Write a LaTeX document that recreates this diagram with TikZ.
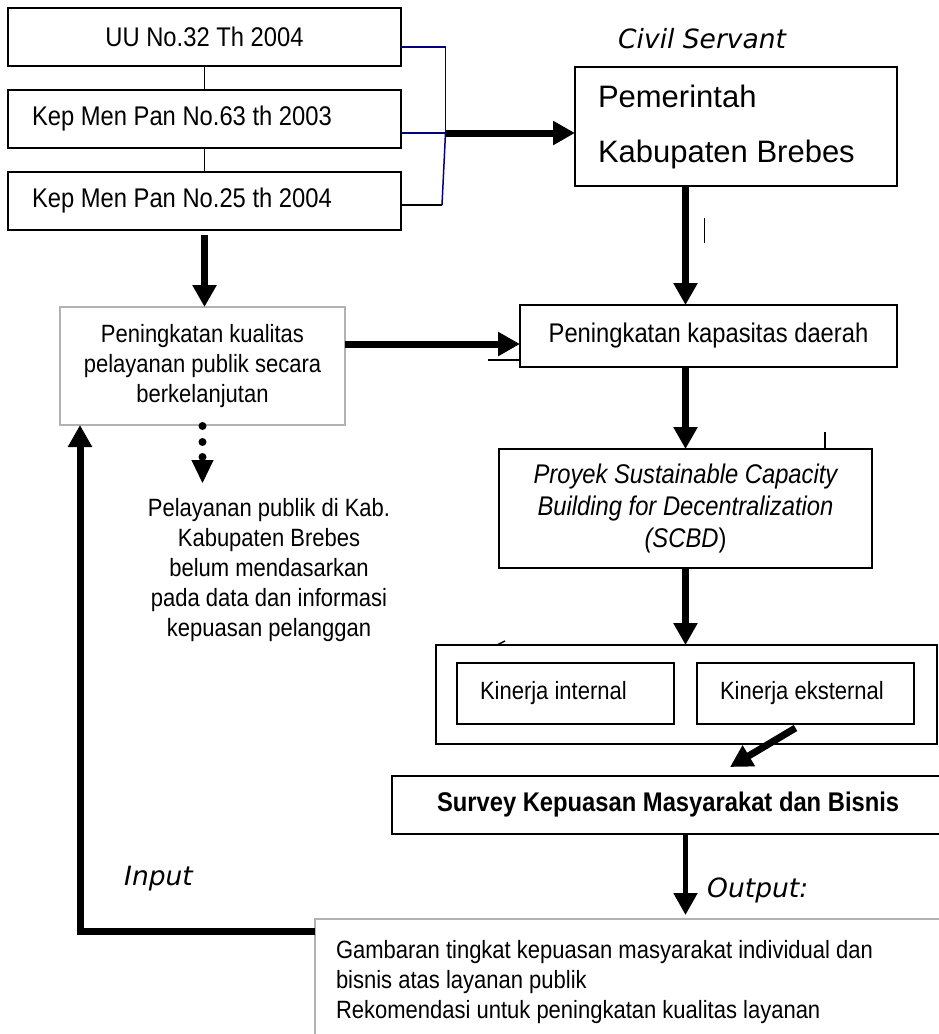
\documentclass[tikz,border=0pt]{standalone}
\usepackage{fontspec}
\setmainfont{Liberation Sans}
\newfontfamily\sempit[FakeStretch=0.88]{Liberation Sans}
\newfontfamily\verd{DejaVu Sans}
\usepackage{xcolor}
\usepackage{tikz}
\definecolor{birutua}{RGB}{0,0,128}
\newcommand{\besar}{\sempit\fontsize{27}{32.4}\selectfont}
\newcommand{\kecil}{\sempit\fontsize{25}{30}\selectfont}
\tikzstyle{kotak} = [draw, line width=2pt, inner sep=0pt, outer sep=0pt]
\tikzstyle{kotakabu} = [draw=black!30, line width=2.5pt, inner sep=0pt, outer sep=0pt]
\tikzstyle{panah} = [line width=7pt, -{Triangle[length=22pt,width=23pt]}]
\tikzstyle{garis} = [line width=1.3pt]
\tikzstyle{biru} = [draw=birutua, line width=1.5pt]
\tikzstyle{miring} = [font=\verd\itshape\fontsize{26.5}{32}\selectfont, inner sep=0pt]
\usetikzlibrary{arrows.meta,calc}

\begin{document}
\begin{tikzpicture}[x=1pt, y=-1pt]
  \clip (0,0) rectangle (939,1034);
  \node[kotak, minimum width=393pt, minimum height=58pt, font=\besar] (uu) at (204.5,37) {UU No.32 Th 2004};
  \node[kotak, minimum width=393pt, minimum height=58pt, text width=345pt, inner xsep=24pt, align=flush left, font=\besar] (kep63) at (204.5,119) {Kep Men Pan No.63 th 2003};
  \node[kotak, minimum width=393pt, minimum height=58pt, text width=345pt, inner xsep=24pt, align=flush left, font=\besar] (kep25) at (204.5,201) {Kep Men Pan No.25 th 2004};

  \node[miring, anchor=base west] (civil) at (618,48) {Civil Servant};
  \node[kotak, minimum width=322pt, minimum height=119pt, text width=276pt, inner xsep=23pt, align=flush left,
        font=\fontsize{31}{55}\selectfont] (pemerintah) at (736,126.5) {Pemerintah\\Kabupaten Brebes};

  \node[kotakabu, minimum width=285pt, minimum height=118pt, align=center, font=\kecil] (kualitas) at (202.5,366)
    {Peningkatan kualitas\\pelayanan publik secara\\berkelanjutan};
  \node[align=center, font=\kecil] (pelayanan) at (269,570)
    {Pelayanan publik di Kab.\\Kabupaten Brebes\\belum mendasarkan\\pada data dan informasi\\kepuasan pelanggan};

  \node[kotak, minimum width=377pt, minimum height=62pt, font=\besar] (kapasitas) at (708.5,336) {Peningkatan kapasitas daerah};
  \node[kotak, minimum width=373pt, minimum height=119pt, align=center, font=\besar\itshape] (scbd) at (685.5,508.5)
    {Proyek Sustainable Capacity\\Building for Decentralization\\(SCBD{\upshape)}};

  \node[kotak, line width=2.5pt, minimum width=501pt, minimum height=99pt] (kinerja) at (686.5,694.5) {};
  \node[kotak, line width=2.5pt, minimum width=217pt, minimum height=61pt, text width=171pt, inner xsep=23pt, align=flush left,
        font=\kecil] (internal) at (565.5,693.5) {Kinerja internal};
  \node[kotak, line width=2.5pt, minimum width=217pt, minimum height=61pt, text width=171pt, inner xsep=23pt, align=flush left,
        font=\kecil] (eksternal) at (805.5,693.5) {Kinerja eksternal};

  \node[kotak, line width=2.5pt, minimum width=568pt, minimum height=58pt, text width=478pt, inner xsep=45pt, align=flush left,
        font=\sempit\bfseries\fontsize{27}{32}\selectfont] (survey) at (676,805) {Survey Kepuasan Masyarakat dan Bisnis};
  \node[miring, anchor=base west] (output) at (707,897) {Output:};
  \node[miring, anchor=base west] (input) at (124,885) {Input};
  \node[kotakabu, anchor=north west, text width=623pt, inner xsep=21pt, inner ysep=21pt, align=flush left, font=\kecil] (hasil) at (315,919)
    {Gambaran tingkat kepuasan masyarakat individual dan\\bisnis atas layanan publik\\Rekomendasi untuk peningkatan kualitas layanan};

  \draw[garis] (uu) -- (kep63);
  \draw[garis] (kep63) -- (kep25);
  \coordinate (gabung) at (445.5,133);
  \draw[biru] ($(uu.east)+(0,10)$) -| (gabung);
  \draw[biru] ($(kep63.east)+(0,14)$) -- (gabung);
  \draw[biru] (gabung) -- ($(kep25.east)+(41,4)$);
  \draw[garis] ($(kep25.east)+(0,4)$) -- ++(41,0);
  \draw[panah] (gabung) -- (gabung -| pemerintah.west);

  \draw[panah, shorten <=5pt] (kep25.south) -- (kep25.south |- kualitas.north);
  \coordinate (kual) at ($(kualitas.east)+(0,-22)$);
  \draw[panah] (kual) -- (kual -| kapasitas.west);
  \draw[garis] ($(kapasitas.south west)+(-32,-7)$) -- ++(32,0);

  \draw[panah] (pemerintah.south -| scbd.north) -- (scbd.north |- kapasitas.north);
  \draw[garis] ($(pemerintah.south -| scbd.north)+(19,32)$) -- ++(0,25);
  \draw[panah] (kapasitas.south -| scbd.north) -- (scbd.north);
  \draw[garis] ($(scbd.north east)+(-47,0)$) -- ++(0,-17);
  \draw[panah] (scbd.south) -- (scbd.south |- kinerja.north);
  \draw[line width=1.5pt] ($(kinerja.north west)+(61,0)$) -- ++(8,-4);

  \coordinate (ujung) at (730,767);
  \draw[panah] ($(eksternal.south)+(-10,4)$) -- (ujung);
  \draw[panah, line width=5pt, shorten >=4pt] (survey.south -| scbd.south) -- (scbd.south |- hasil.north);
  \draw[panah] ($(hasil.north west)+(0,12)$) -| ($(kualitas.south west)+(20,0)$);

  \foreach \d in {1,17,32}
    \fill ($(kualitas.south)+(0,\d)$) circle (4pt);
  \draw[-{Triangle[length=23pt,width=22pt]}, line width=1pt] ($(kualitas.south)+(0,34)$) -- ($(kualitas.south)+(0,58)$);
\end{tikzpicture}
\end{document}
